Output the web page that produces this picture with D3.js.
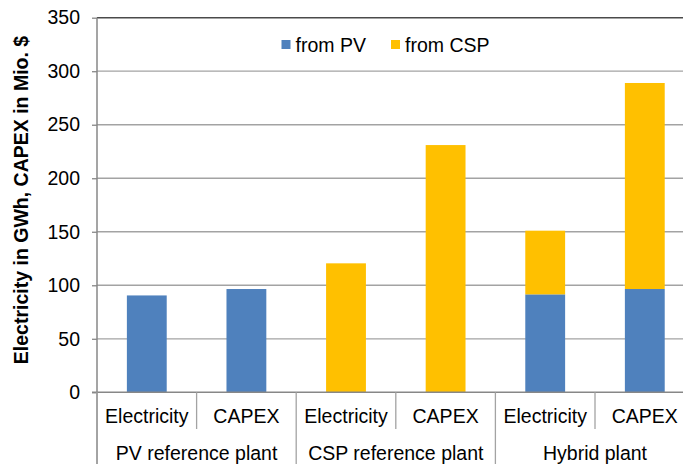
<!DOCTYPE html>
<html>
<head>
<meta charset="utf-8">
<script src="https://cdn.jsdelivr.net/npm/d3@7"></script>
<style>
  body { margin: 0; background: #fff; }
  text { font-family: "Liberation Sans", Arial, sans-serif; fill: #000; }
</style>
</head>
<body>
<svg id="chart" width="683" height="464"></svg>
<script>
let width = 683,
  height = 464;

// values
const groups = ["PV reference plant", "CSP reference plant", "Hybrid plant"]
const measures = ["Electricity", "CAPEX"]
const fromPV = [90.5, 96.5, 0, 0, 91.5, 96.5]
const fromCSP = [0, 0, 120.5, 231, 59.5, 192.5]
const yTicks = [0, 50, 100, 150, 200, 250, 300, 350]
const series = ["from PV", "from CSP"]
const colors = ["#4f81bd", "#ffc000"]

let plotLeft = 97, plotRight = 694.6, plotTop = 17.7, plotBottom = 392.3

let cats = d3.range(groups.length * measures.length)

let scales = {
  x: d3.scaleBand()
    .domain(cats)
    .range([plotLeft, plotRight])
    .paddingInner(0.6)
    .paddingOuter(0.3),
  y: d3.scaleLinear()
    .domain([0, 350])
    .range([plotBottom, plotTop])
}

let svg = d3.select("#chart")

// gridlines
svg.append("g")
  .selectAll("line")
  .data(yTicks.slice(1)).enter()
  .append("line")
  .attr("x1", plotLeft)
  .attr("x2", width)
  .attr("y1", d => scales.y(d))
  .attr("y2", d => scales.y(d))
  .attr("stroke", d => d == 350 ? "#4a4a4a" : "#a3a3a3")
  .attr("stroke-width", d => d == 350 ? 1.5 : 1.3)

// stacked bars
let rows = cats.map(i => ({ i: i, pv: fromPV[i], csp: fromCSP[i] }))
let stack = d3.stack().keys(["pv", "csp"])(rows)

svg.append("g")
  .selectAll("g")
  .data(stack).enter()
  .append("g")
  .attr("fill", (d, k) => colors[k])
  .selectAll("rect")
  .data(d => d.filter(s => s[1] > s[0])).enter()
  .append("rect")
  .attr("x", d => scales.x(d.data.i))
  .attr("width", scales.x.bandwidth())
  .attr("y", d => scales.y(d[1]))
  .attr("height", d => scales.y(d[0]) - scales.y(d[1]))

// y axis
let yAxis = d3.axisLeft(scales.y)
  .tickValues(yTicks)
  .tickSize(5)
  .tickPadding(12)

let ya = svg.append("g")
  .attr("transform", `translate(${plotLeft},0)`)
  .call(yAxis)
ya.select(".domain").remove()
ya.selectAll(".tick line").attr("stroke", "#878787").attr("stroke-width", 1.3)
ya.selectAll(".tick text")
  .attr("fill", "#000")
  .style("font-size", "19.5px")
  .style("font-family", "'Liberation Sans', Arial, sans-serif")

svg.append("line")
  .attr("x1", plotLeft).attr("x2", plotLeft)
  .attr("y1", plotTop).attr("y2", height)
  .attr("stroke", "#878787").attr("stroke-width", 1.5)

// x axis line
svg.append("line")
  .attr("x1", plotLeft - 5).attr("x2", width)
  .attr("y1", plotBottom).attr("y2", plotBottom)
  .attr("stroke", "#878787").attr("stroke-width", 1.5)

// category separators
let step = scales.x.step()
let edges = d3.range(cats.length + 1).map(i => plotLeft + i * step)
svg.append("g")
  .selectAll("line")
  .data(edges).enter()
  .append("line")
  .attr("x1", d => d).attr("x2", d => d)
  .attr("y1", plotBottom)
  .attr("y2", (d, i) => i % 2 == 0 ? height : 429)
  .attr("stroke", "#a3a3a3")
  .attr("stroke-width", 1.3)

// category labels
svg.append("g")
  .selectAll("text")
  .data(cats).enter()
  .append("text")
  .attr("x", d => scales.x(d) + scales.x.bandwidth() / 2)
  .attr("y", 423)
  .attr("text-anchor", "middle")
  .style("font-size", "19.5px")
  .text(d => measures[d % 2])

svg.append("g")
  .selectAll("text")
  .data(groups).enter()
  .append("text")
  .attr("x", (d, i) => plotLeft + (2 * i + 1) * step)
  .attr("y", 460)
  .attr("text-anchor", "middle")
  .style("font-size", "19.5px")
  .text(d => d)

// y title
svg.append("text")
  .attr("transform", "translate(28,200) rotate(-90)")
  .attr("text-anchor", "middle")
  .style("font-size", "19.5px")
  .style("font-weight", "bold")
  .text("Electricity in GWh, CAPEX in Mio. $")

// legend
let legendX = [281.5, 391]
let legend = svg.append("g")
  .selectAll("g")
  .data(series).enter()
  .append("g")
  .attr("transform", (d, i) => `translate(${legendX[i]},40)`)
legend.append("rect")
  .attr("width", 9).attr("height", 9)
  .attr("fill", (d, i) => colors[i])
legend.append("text")
  .attr("x", 14)
  .attr("y", 11.7)
  .style("font-size", "19.5px")
  .text(d => d)
</script>
</body>
</html>
